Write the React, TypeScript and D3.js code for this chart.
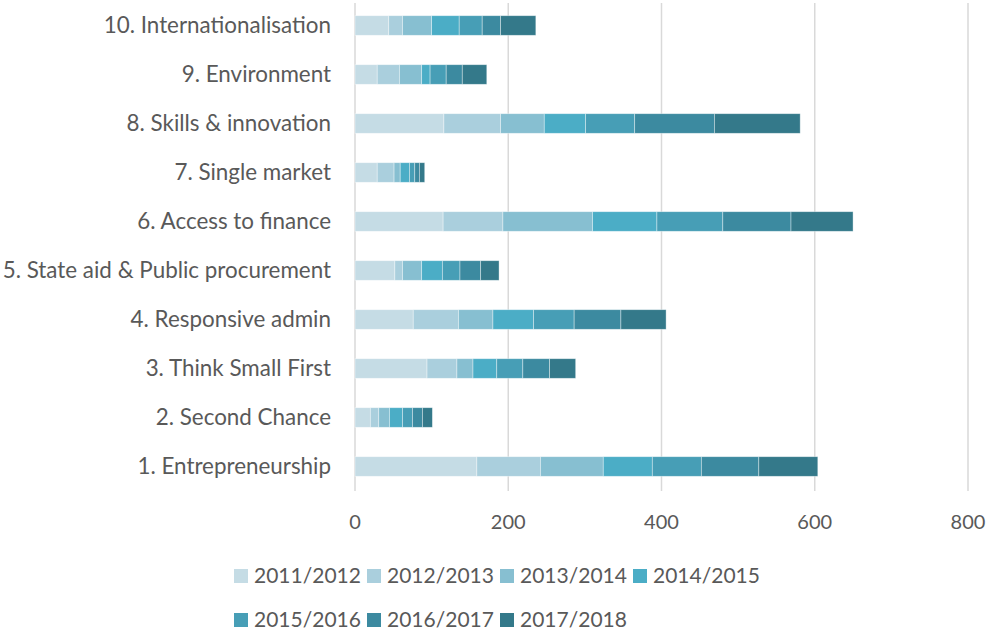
import React from "react";
import * as d3 from "d3";

const categories = [
  "1. Entrepreneurship",
  "2. Second Chance",
  "3. Think Small First",
  "4. Responsive admin",
  "5. State aid & Public procurement",
  "6. Access to finance",
  "7. Single market",
  "8. Skills & innovation",
  "9. Environment",
  "10. Internationalisation",
];

const seriesNames = ["2011/2012", "2012/2013", "2013/2014", "2014/2015", "2015/2016", "2016/2017", "2017/2018"];

// one array per category, values per school year
const entrepreneurship = [159, 83, 82, 64, 64, 75, 77];
const secondChance = [20, 11, 14, 17, 13, 13, 13];
const thinkSmallFirst = [94, 39, 21, 31, 34, 35, 34];
const responsiveAdmin = [76, 59, 45, 53, 53, 61, 59];
const stateAid = [52, 10, 25, 27, 23, 27, 24];
const accessToFinance = [115, 78, 117, 84, 86, 89, 81];
const singleMarket = [29, 22, 8, 12, 7, 6, 7];
const skillsInnovation = [116, 74, 57, 54, 64, 104, 112];
const environment = [29, 29, 29, 11, 21, 21, 32];
const internationalisation = [44, 18, 38, 36, 30, 24, 46];

const xTicks = [0, 200, 400, 600, 800];

const colors = ["#C5DCE5", "#AACFDD", "#87BFD1", "#4BADC6", "#479EB6", "#3C8AA0", "#34798A"];

const W = 987;
const H = 631;
const FONT = "Lato, 'Open Sans', sans-serif";
const TEXT = "#595959";

export default function App() {
  const values = [
    entrepreneurship, secondChance, thinkSmallFirst, responsiveAdmin, stateAid,
    accessToFinance, singleMarket, skillsInnovation, environment, internationalisation,
  ];
  const rows = categories.map((c, i) => {
    const r: any = { category: c };
    seriesNames.forEach((s, j) => (r[s] = values[i][j]));
    return r;
  });
  const stacked = d3.stack<any>().keys(seriesNames)(rows);

  const x = d3.scaleLinear().domain([0, 800]).range([355, 968]);
  // category 1 at the bottom, 10 at the top
  const y = d3.scaleBand().domain([...categories].reverse()).range([1, 491]).paddingInner(0.6).paddingOuter(0.3);

  const legendX = (i: number) => 234 + (i % 4) * 133;
  const legendY = (i: number) => (i < 4 ? 576 : 620);

  return (
    <svg width={W} height={H} style={{ position: "absolute", left: 0, top: 0, background: "#fff" }} fontFamily={FONT}>
      {xTicks.map((t) => (
        <g key={t}>
          <line x1={x(t)} x2={x(t)} y1={3} y2={491} stroke="#D9D9D9" strokeWidth={1.5} />
          <text x={x(t)} y={529} textAnchor="middle" fontSize={20} fill={TEXT}>{t}</text>
        </g>
      ))}
      {stacked.map((layer, j) => (
        <g key={layer.key} fill={colors[j]}>
          {layer.map((d, i) => (
            <rect
              key={i}
              x={x(d[0])}
              y={y(categories[i])}
              width={x(d[1]) - x(d[0])}
              height={y.bandwidth()}
              stroke="#ffffff"
              strokeOpacity={0.5}
              strokeWidth={0.75}
            />
          ))}
        </g>
      ))}
      {categories.map((c) => (
        <text key={c} x={331} y={(y(c) as number) + y.bandwidth() / 2} dy="0.35em" textAnchor="end" fontSize={22.4} fill={TEXT}>
          {c}
        </text>
      ))}
      {seriesNames.map((s, i) => (
        <g key={s} transform={`translate(${legendX(i)},${legendY(i)})`}>
          <rect x={0} y={-7} width={14} height={14} fill={colors[i]} />
          <text x={20} y={0} dy="0.35em" fontSize={21} fill={TEXT}>{s}</text>
        </g>
      ))}
    </svg>
  );
}
